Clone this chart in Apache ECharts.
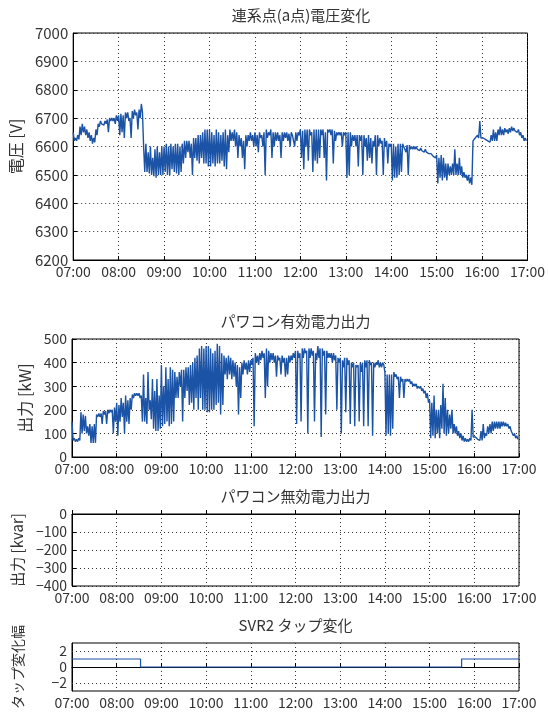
<!DOCTYPE html>
<html>
<head>
<meta charset="utf-8">
<script src="https://cdn.jsdelivr.net/npm/echarts@6/dist/echarts.min.js"></script>
<style>
  html, body { margin: 0; padding: 0; background: #fff; }
  #main { width: 548px; height: 713px; }
</style>
</head>
<body>
<div id="main"></div>
<script>
// minutes after 07:00; each 3-min slot has a high and a low reading
var slot = 3;

// 連系点(a点)電圧 [V]
var voltageHigh = [
  6650, 6630, 6640, 6670, 6680, 6670, 6660, 6650, 6640, 6630,
  6660, 6680, 6690, 6685, 6690, 6695, 6700, 6700, 6700, 6710,
  6710, 6715, 6710, 6720, 6720, 6700, 6725, 6730, 6720, 6730,
  6750, 6600, 6610, 6580, 6600, 6560, 6590, 6600, 6580, 6600,
  6600, 6610, 6600, 6610, 6600, 6610, 6610, 6600, 6610, 6620,
  6620, 6620, 6610, 6630, 6630, 6640, 6640, 6650, 6660, 6660,
  6660, 6650, 6640, 6660, 6650, 6640, 6650, 6660, 6640, 6660,
  6650, 6660, 6650, 6640, 6630, 6620, 6640, 6640, 6650, 6640,
  6650, 6640, 6650, 6640, 6650, 6660, 6650, 6660, 6650, 6650,
  6650, 6640, 6650, 6650, 6650, 6645, 6650, 6640, 6650, 6650,
  6660, 6655, 6660, 6660, 6660, 6650, 6660, 6660, 6660, 6660,
  6660, 6650, 6660, 6660, 6660, 6655, 6650, 6650, 6650, 6650,
  6650, 6650, 6650, 6640, 6640, 6640, 6640, 6640, 6640, 6630,
  6640, 6630, 6620, 6640, 6640, 6630, 6620, 6630, 6620, 6610,
  6610, 6610, 6600, 6610, 6610, 6610, 6605, 6605, 6605, 6600,
  6600, 6600, 6595, 6595, 6590, 6590, 6585, 6580, 6575, 6570,
  6570, 6560, 6570, 6560, 6540, 6540, 6530, 6540, 6590, 6540,
  6560, 6530, 6510, 6500, 6500, 6490, 6620, 6630, 6640, 6690,
  6635, 6630, 6625, 6620, 6640, 6660, 6650, 6660, 6670, 6660,
  6665, 6660, 6665, 6670, 6665, 6660, 6660, 6650, 6640, 6630
];
var voltageLow = [
  6620, 6620, 6625, 6640, 6650, 6640, 6630, 6620, 6610, 6615,
  6640, 6670, 6680, 6675, 6680, 6650, 6690, 6690, 6680, 6690,
  6640, 6650, 6630, 6700, 6690, 6630, 6700, 6710, 6660, 6700,
  6720, 6510, 6510, 6505, 6500, 6495, 6490, 6500, 6500, 6500,
  6510, 6500, 6500, 6520, 6510, 6505, 6500, 6510, 6540, 6560,
  6580, 6560, 6500, 6560, 6550, 6540, 6560, 6540, 6540, 6530,
  6530, 6540, 6530, 6540, 6540, 6550, 6530, 6520, 6580, 6620,
  6620, 6600, 6560, 6600, 6560, 6520, 6600, 6620, 6620, 6600,
  6600, 6580, 6630, 6600, 6500, 6630, 6640, 6560, 6600, 6620,
  6620, 6560, 6620, 6630, 6620, 6600, 6640, 6600, 6620, 6640,
  6560, 6520, 6600, 6550, 6640, 6510, 6550, 6540, 6560, 6640,
  6560, 6480, 6650, 6640, 6540, 6620, 6640, 6640, 6600, 6640,
  6490, 6500, 6600, 6620, 6600, 6530, 6620, 6500, 6600, 6550,
  6560, 6540, 6600, 6500, 6600, 6610, 6500, 6600, 6540, 6600,
  6480, 6490, 6490, 6500, 6510, 6600, 6580, 6500, 6590, 6590,
  6590, 6590, 6585, 6585, 6580, 6580, 6575, 6575, 6565, 6560,
  6470, 6490, 6480, 6490, 6480, 6500, 6500, 6500, 6500, 6500,
  6500, 6490, 6490, 6480, 6470, 6465, 6620, 6625, 6630, 6630,
  6630, 6625, 6620, 6615, 6620, 6620, 6620, 6640, 6640, 6640,
  6650, 6645, 6650, 6655, 6655, 6650, 6640, 6630, 6620, 6620
];

// パワコン有効電力出力 [kW]
var powerHigh = [
  150, 80, 75, 80, 190, 180, 175, 130, 140, 130,
  140, 180, 185, 185, 195, 195, 200, 200, 200, 210,
  230, 220, 250, 230, 260, 240, 250, 265, 270, 270,
  270, 260, 350, 250, 360, 240, 330, 280, 330, 260,
  390, 300, 380, 330, 380, 370, 360, 340, 360, 370,
  370, 380, 380, 390, 400, 420, 430, 460, 470, 460,
  470, 470, 460, 440, 450, 480, 470, 440, 430, 420,
  430, 420, 410, 400, 390, 380, 400, 410, 400, 410,
  410, 420, 440, 430, 440, 450, 440, 460, 450, 440,
  440, 430, 430, 420, 430, 420, 420, 430, 430, 440,
  450, 450, 440, 460, 460, 450, 460, 460, 450, 440,
  470, 460, 460, 450, 450, 440, 440, 440, 430, 420,
  420, 410, 420, 420, 410, 400, 400, 390, 390, 400,
  400, 410, 410, 410, 400, 400, 400, 410, 400, 400,
  360, 350, 350, 350, 360, 350, 340, 340, 330, 330,
  330, 330, 320, 310, 310, 300, 300, 290, 280, 270,
  240, 230, 260, 200, 200, 220, 310, 250, 200, 180,
  200, 140, 130, 110, 100, 90, 80, 75, 80, 200,
  90, 85, 80, 110, 140, 100, 130, 140, 150, 150,
  150, 150, 150, 150, 145, 140, 130, 110, 100, 90
];
var powerLow = [
  70, 65, 65, 70, 100, 110, 100, 90, 60, 60,
  60, 170, 170, 140, 180, 140, 185, 190, 100, 150,
  90, 150, 170, 100, 150, 140, 200, 250, 260, 260,
  250, 150, 150, 140, 200, 160, 120, 110, 110, 120,
  130, 140, 150, 130, 140, 150, 250, 250, 300, 150,
  250, 280, 220, 230, 200, 250, 200, 250, 200, 200,
  190, 190, 200, 200, 220, 230, 180, 220, 350, 330,
  350, 330, 340, 300, 180, 250, 350, 370, 350, 360,
  390, 130, 400, 390, 410, 420, 250, 300, 400, 410,
  400, 340, 410, 350, 400, 340, 350, 400, 410, 420,
  140, 420, 150, 420, 440, 100, 420, 430, 150, 410,
  420, 85, 430, 180, 420, 420, 400, 410, 200, 400,
  100, 380, 190, 390, 140, 380, 130, 380, 150, 360,
  130, 380, 130, 390, 90, 380, 390, 380, 380, 390,
  90, 100, 90, 120, 340, 330, 250, 320, 250, 320,
  320, 310, 300, 300, 290, 290, 280, 270, 250, 230,
  80, 90, 80, 100, 80, 120, 100, 90, 100, 120,
  100, 100, 90, 80, 70, 65, 65, 65, 70, 85,
  85, 75, 70, 70, 80, 90, 100, 100, 110, 120,
  120, 120, 130, 130, 130, 120, 110, 90, 80, 75
];

// SVR2 タップ変化
var tapTimes = [0, 92, 523, 600];
var tapValues = [1, 0, 1, 1];

var titles = ['連系点(a点)電圧変化', 'パワコン有効電力出力', 'パワコン無効電力出力', 'SVR2 タップ変化'];
var yNames = ['電圧 [V]', '出力 [kW]', '出力 [kvar]', 'タップ変化幅'];

var FONT = '"Noto Sans CJK JP", "Noto Sans", sans-serif';
var lineColor = '#1b53a6';
var textColor = '#333';

// high at the start of each slot, low half a slot later
function zigzag(high, low) {
  var pts = [];
  high.forEach(function (h, i) {
    pts.push([i * slot, h]);
    pts.push([i * slot + slot / 2, low[i]]);
  });
  return pts;
}

function timeLabel(v) {
  var h = 7 + Math.round(v / 60);
  return (h < 10 ? '0' : '') + h + ':00';
}

function numLabel(v) {
  return v < 0 ? '−' + (-v) : String(v);
}

var grids = [
  { left: 72, right: 18, top: 33, height: 227 },
  { left: 72, right: 29, top: 339, height: 118 },
  { left: 72, right: 29, top: 514, height: 72 },
  { left: 72, right: 29, top: 643, height: 48 }
];
grids.forEach(function (g) {
  g.show = true;
  g.borderColor = '#000';
  g.borderWidth = 1;
  g.backgroundColor = 'transparent';
});

var dotted = { color: '#333', width: 1, type: [1, 3] };

var xAxes = grids.map(function (g, i) {
  return {
    type: 'value', gridIndex: i, min: 0, max: 600, interval: 60,
    axisLine: { lineStyle: { color: '#000' } },
    axisTick: { inside: true, length: 4, lineStyle: { color: '#000' } },
    axisLabel: { formatter: timeLabel, color: textColor, fontFamily: FONT, fontSize: 14, margin: 5 },
    splitLine: { show: true, lineStyle: dotted }
  };
});

var yRanges = [[6200, 7000, 100], [0, 500, 100], [-400, 0, 100], [-3, 3, 1]];
var nameGaps = [46, 34, 36, 47];
var nameSizes = [16, 16, 15, 14];

var yAxes = yRanges.map(function (r, i) {
  var ax = {
    type: 'value', gridIndex: i, min: r[0], max: r[1], interval: r[2],
    name: yNames[i], nameLocation: 'middle', nameGap: nameGaps[i],
    nameTextStyle: { color: textColor, fontFamily: FONT, fontSize: nameSizes[i] },
    axisLine: { show: true, lineStyle: { color: '#000' } },
    axisTick: { show: true, inside: true, length: 4, lineStyle: { color: '#000' } },
    axisLabel: { formatter: numLabel, color: textColor, fontFamily: FONT, fontSize: i === 0 ? 15 : 14, margin: 5 },
    splitLine: { show: true, lineStyle: dotted }
  };
  if (i === 3) {
    ax.axisLabel.formatter = function (v) { return v % 2 === 0 ? numLabel(v) : ''; };
    ax.axisTick.show = false;
    ax.splitLine.show = false;
  }
  return ax;
});

var option = {
  animation: false,
  backgroundColor: '#fff',
  title: titles.map(function (t, i) {
    var g = grids[i];
    var w = 548 - g.left - g.right;
    return {
      text: t, left: g.left + w / 2, top: g.top - 25, textAlign: 'center', padding: 0,
      textStyle: { color: textColor, fontFamily: FONT, fontSize: 15, fontWeight: 'normal' }
    };
  }),
  grid: grids,
  xAxis: xAxes,
  yAxis: yAxes,
  series: [
    {
      type: 'line', xAxisIndex: 0, yAxisIndex: 0, data: zigzag(voltageHigh, voltageLow),
      symbol: 'none', lineStyle: { color: lineColor, width: 1.4 }
    },
    {
      type: 'line', xAxisIndex: 1, yAxisIndex: 1, data: zigzag(powerHigh, powerLow),
      symbol: 'none', lineStyle: { color: lineColor, width: 1.4 }
    },
    {
      type: 'line', xAxisIndex: 3, yAxisIndex: 3,
      data: tapTimes.map(function (t, i) { return [t, tapValues[i]]; }),
      step: 'end', symbol: 'none', lineStyle: { color: lineColor, width: 1.2 },
      markLine: {
        silent: true, symbol: 'none', label: { show: false },
        lineStyle: dotted,
        data: [{ yAxis: 2 }, { yAxis: -2 }]
      }
    }
  ]
};

var chart = echarts.init(document.getElementById('main'));
chart.setOption(option);
</script>
</body>
</html>
